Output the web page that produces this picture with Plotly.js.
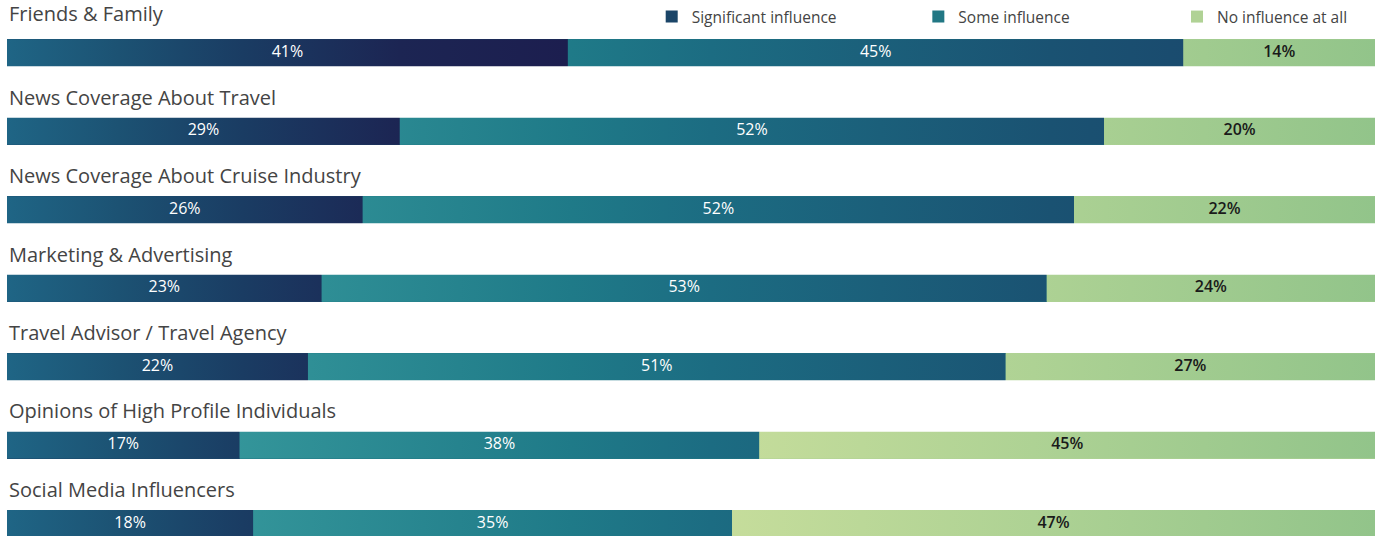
<!DOCTYPE html>
<html>
<head>
<meta charset="utf-8">
<script src="https://cdn.plot.ly/plotly-3.0.1.min.js"></script>
<style>
  html, body { margin: 0; padding: 0; background: #ffffff; }
  #chart { width: 1375px; height: 536px; }
</style>
</head>
<body>
<div id="chart"></div>
<script>
// ---- data ----
const categories = [
  "Friends & Family",
  "News Coverage About Travel",
  "News Coverage About Cruise Industry",
  "Marketing & Advertising",
  "Travel Advisor / Travel Agency",
  "Opinions of High Profile Individuals",
  "Social Media Influencers"
];
const significant = [41, 29, 26, 23, 22, 17, 18];
const some        = [45, 52, 52, 53, 51, 38, 35];
const noInfluence = [14, 20, 22, 24, 27, 45, 47];
const seriesNames = ["Significant influence", "Some influence", "No influence at all"];

// ---- styles ----
const FONT = "'Open Sans', sans-serif";
const solidColors = ["#1b4568", "#217784", "#b0d295"];
// gradients run along the x axis (absolute positions, in percent of the bar)
const gradients = [
  { start: 0, stop: 41, colorscale: [[0, "#1f6585"], [0.2, "#1c5273"], [0.42, "#1a3c63"], [0.7, "#1c2553"], [1, "#1c1e4f"]] },
  { start: 15, stop: 88, colorscale: [[0, "#35979b"], [0.36, "#1f7a88"], [0.5, "#1c6c82"], [0.84, "#1a5272"], [1, "#1a4a6e"]] },
  { start: 50, stop: 100, colorscale: [[0, "#c8de9c"], [0.5, "#aed294"], [1, "#92c48a"]] }
];
const textColors = ["#ffffff", "#ffffff", "#1a1a1a"];
const textWeights = [400, 400, 600];
const BAR_W = 0.344;

const series = [significant, some, noInfluence];
const rows = categories.map((_, i) => i);
const totals = rows.map(i => series.reduce((a, s) => a + s[i], 0));

const traces = [];
const legendIds = ["legend", "legend2", "legend3"];

// base bar traces (carry the data + legend)
series.forEach((vals, s) => {
  traces.push({
    type: "bar",
    orientation: "h",
    name: seriesNames[s],
    x: vals,
    y: rows,
    width: BAR_W,
    marker: { color: solidColors[s], line: { width: 0 } },
    hoverinfo: "skip",
    showlegend: true,
    legend: legendIds[s]
  });
});

// gradient overlays computed from the same arrays
rows.forEach(i => {
  let cum = 0;
  series.forEach((vals, s) => {
    const x0 = cum / totals[i] * 100;
    cum += vals[i];
    const x1 = cum / totals[i] * 100;
    const y0 = i - BAR_W / 2, y1 = i + BAR_W / 2;
    traces.push({
      type: "scatter",
      mode: "lines",
      x: [x0, x1, x1, x0, x0],
      y: [y0, y0, y1, y1, y0],
      fill: "toself",
      fillgradient: { type: "horizontal", start: gradients[s].start, stop: gradients[s].stop, colorscale: gradients[s].colorscale },
      line: { width: 0, color: "rgba(0,0,0,0)" },
      hoverinfo: "skip",
      showlegend: false
    });
  });
});

// value labels
series.forEach((vals, s) => {
  const xs = [], ts = [];
  rows.forEach(i => {
    let start = 0;
    for (let k = 0; k < s; k++) start += series[k][i];
    xs.push((start + vals[i] / 2) / totals[i] * 100);
    ts.push(vals[i] + "%");
  });
  traces.push({
    type: "scatter",
    mode: "text",
    x: xs,
    y: rows,
    text: ts,
    textposition: "middle center",
    textfont: { family: FONT, size: 16, color: textColors[s], weight: textWeights[s] },
    hoverinfo: "skip",
    showlegend: false
  });
});

const annotations = categories.map((c, i) => ({
  text: c,
  xref: "paper", x: 0, xanchor: "left", xshift: 0,
  yref: "y", y: i - (i === 0 ? 0.495 : 0.435), yanchor: "middle",
  showarrow: false,
  font: { family: FONT, size: 20, color: "#444444" }
}));

const legendBase = {
  orientation: "h",
  xanchor: "left",
  y: 1.0, yanchor: "top",
  itemwidth: 30,
  font: { family: FONT, size: 15.5, color: "#444444" },
  bgcolor: "rgba(0,0,0,0)"
};

const layout = {
  width: 1375,
  height: 536,
  margin: { l: 7, r: 0, t: 0, b: 0, pad: 0 },
  paper_bgcolor: "#ffffff",
  plot_bgcolor: "#ffffff",
  barmode: "stack",
  barnorm: "percent",
  xaxis: { range: [0, 100], visible: false, fixedrange: true },
  yaxis: { range: [6.158, -0.672], visible: false, fixedrange: true },
  showlegend: true,
  legend: Object.assign({}, legendBase, { x: 648 / 1375 }),
  legend2: Object.assign({}, legendBase, { x: 916 / 1375 }),
  legend3: Object.assign({}, legendBase, { x: 1176 / 1375 }),
  annotations: annotations,
  hovermode: false
};

Plotly.newPlot("chart", traces, layout, { displayModeBar: false, staticPlot: true });
</script>
</body>
</html>
